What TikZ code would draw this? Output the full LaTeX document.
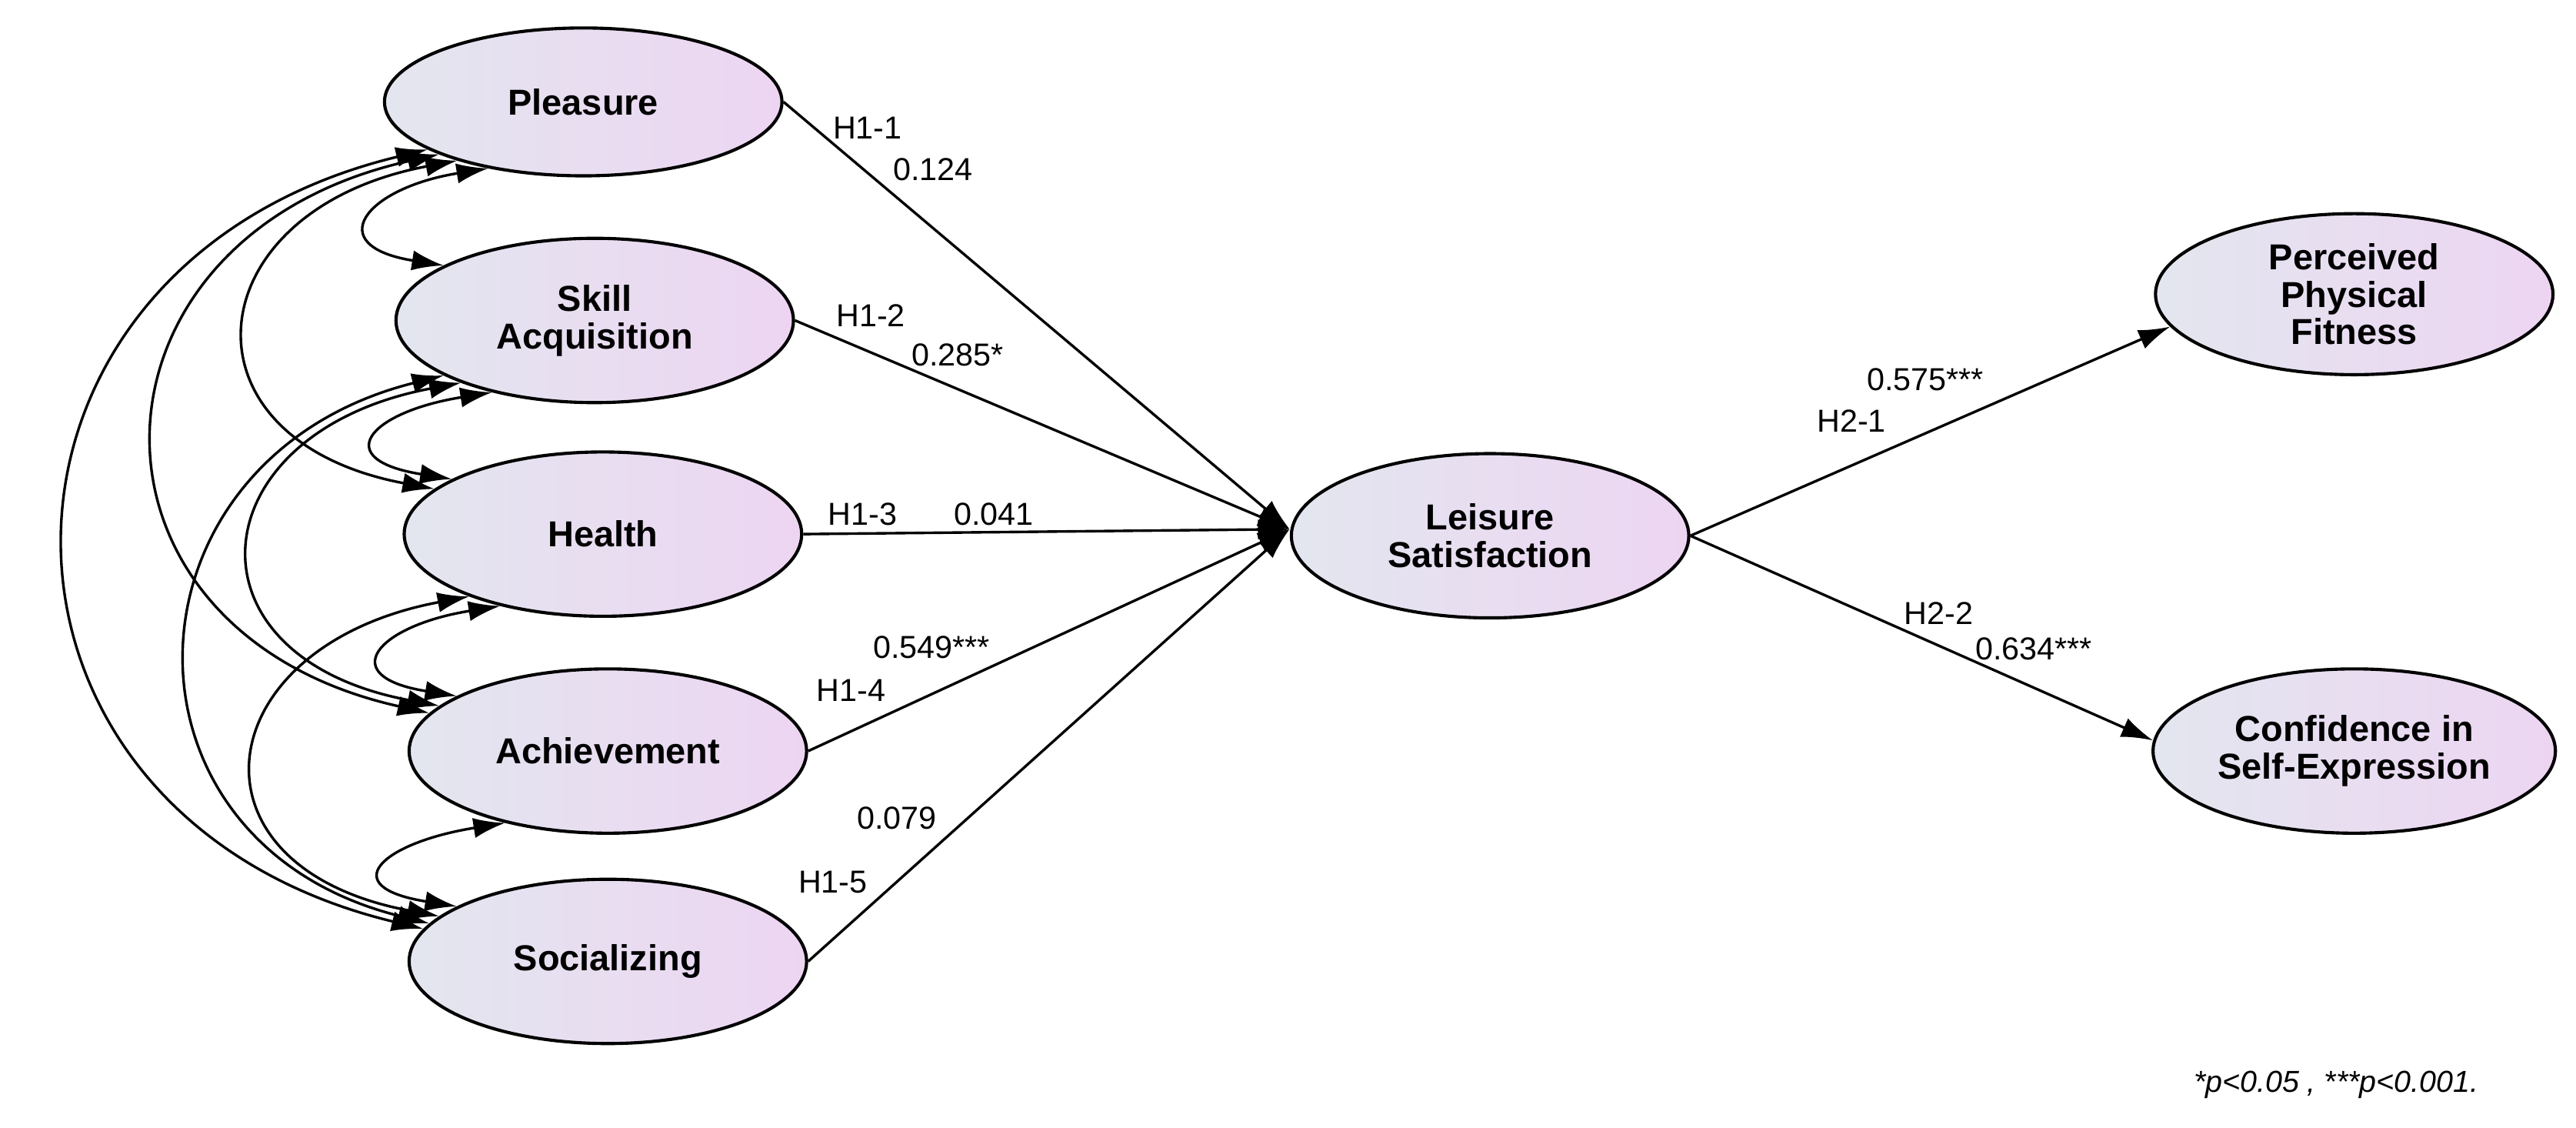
\documentclass[tikz,border=0pt]{standalone}
\usepackage{fontspec}
\setmainfont{Liberation Sans}
\usetikzlibrary{shapes.geometric,arrows.meta}
\definecolor{lc}{HTML}{E3E6EF}
\definecolor{rc}{HTML}{EDD5F2}
\tikzset{
  lat/.style={ellipse,draw,line width=1.1pt,left color=lc,right color=rc,minimum width=#1,align=center,font=\bfseries\fontsize{12.5}{13}\selectfont,inner sep=0pt},
  lat/.default=4.84cm,
  path/.style={-{Latex[length=11pt,width=7pt]},line width=0.9pt},
  cov/.style={{Latex[length=11pt,width=7pt]}-{Latex[length=11pt,width=7pt]},line width=0.9pt},
  lab/.style={font=\fontsize{11}{12}\selectfont,inner sep=1pt}
}
\begin{document}
\begin{tikzpicture}[x=0.02cm,y=-0.02cm]
\useasboundingbox (0,0) rectangle (1568,686);
\node[lat,minimum height=1.8cm] (p) at (355,62) {Pleasure};
\node[lat,minimum height=2.0cm] (s) at (362,195) {Skill\\Acquisition};
\node[lat,minimum height=2.0cm] (h) at (367,325) {Health};
\node[lat,minimum height=2.0cm] (a) at (370,457) {Achievement};
\node[lat,minimum height=2.0cm] (so) at (370,585) {Socializing};
\node[lat,minimum height=2.0cm] (l) at (907,326) {Leisure\\Satisfaction};
\node[lat,minimum height=1.96cm] (pf) at (1433,179) {Perceived\\Physical\\Fitness};
\node[lat,minimum height=2.0cm,minimum width=4.9cm] (c) at (1433,457) {Confidence in\\Self-Expression};
\coordinate (lin) at (785,322);
\draw[path] (p.east) -- (lin);
\draw[path] (s.east) -- (lin);
\draw[path] (h.east) -- (lin);
\draw[path] (a.east) -- (lin);
\draw[path] (so.east) -- (lin);
\draw[path] (l.east) -- (pf.190);
\draw[path] (l.east) -- (c.177);
% covariances
\draw[cov] (p.215) .. controls +(-75,12) and +(-75,-12) .. (s.160);
\draw[cov] (s.215) .. controls +(-75,12) and +(-75,-12) .. (h.160);
\draw[cov] (h.215) .. controls +(-75,12) and +(-75,-12) .. (a.160);
\draw[cov] (a.215) .. controls +(-75,12) and +(-75,-12) .. (so.160);
\draw[cov] (p.205) .. controls +(-160,30) and +(-160,-30) .. (h.165);
\draw[cov] (s.205) .. controls +(-160,30) and +(-160,-30) .. (a.165);
\draw[cov] (h.205) .. controls +(-160,30) and +(-160,-30) .. (so.165);
\draw[cov] (p.200) .. controls +(-225,50) and +(-225,-50) .. (a.168);
\draw[cov] (s.200) .. controls +(-200,50) and +(-200,-50) .. (so.168);
\draw[cov] (p.197) .. controls +(-290,70) and +(-290,-70) .. (so.170);
% labels
\node[lab] (t1) at (528,78) {H1-1};
\node[lab] (t2) at (568,103) {0.124};
\node[lab] (t3) at (530,192) {H1-2};
\node[lab] (t4) at (583,216) {0.285*};
\node[lab] (t5) at (525,313) {H1-3};
\node[lab] (t6) at (605,313) {0.041};
\node[lab] (t7) at (567,394) {0.549***};
\node[lab] (t8) at (518,420) {H1-4};
\node[lab] (t9) at (546,498) {0.079};
\node[lab] (t10) at (507,537) {H1-5};
\node[lab] (t11) at (1172,231) {0.575***};
\node[lab] (t12) at (1127,256) {H2-1};
\node[lab] (t13) at (1180,373) {H2-2};
\node[lab] (t14) at (1238,395) {0.634***};
\node[lab,font=\itshape\fontsize{10.5}{12}\selectfont] (fn) at (1422,660) {*p<0.05 , ***p<0.001.};
\end{tikzpicture}
\end{document}
